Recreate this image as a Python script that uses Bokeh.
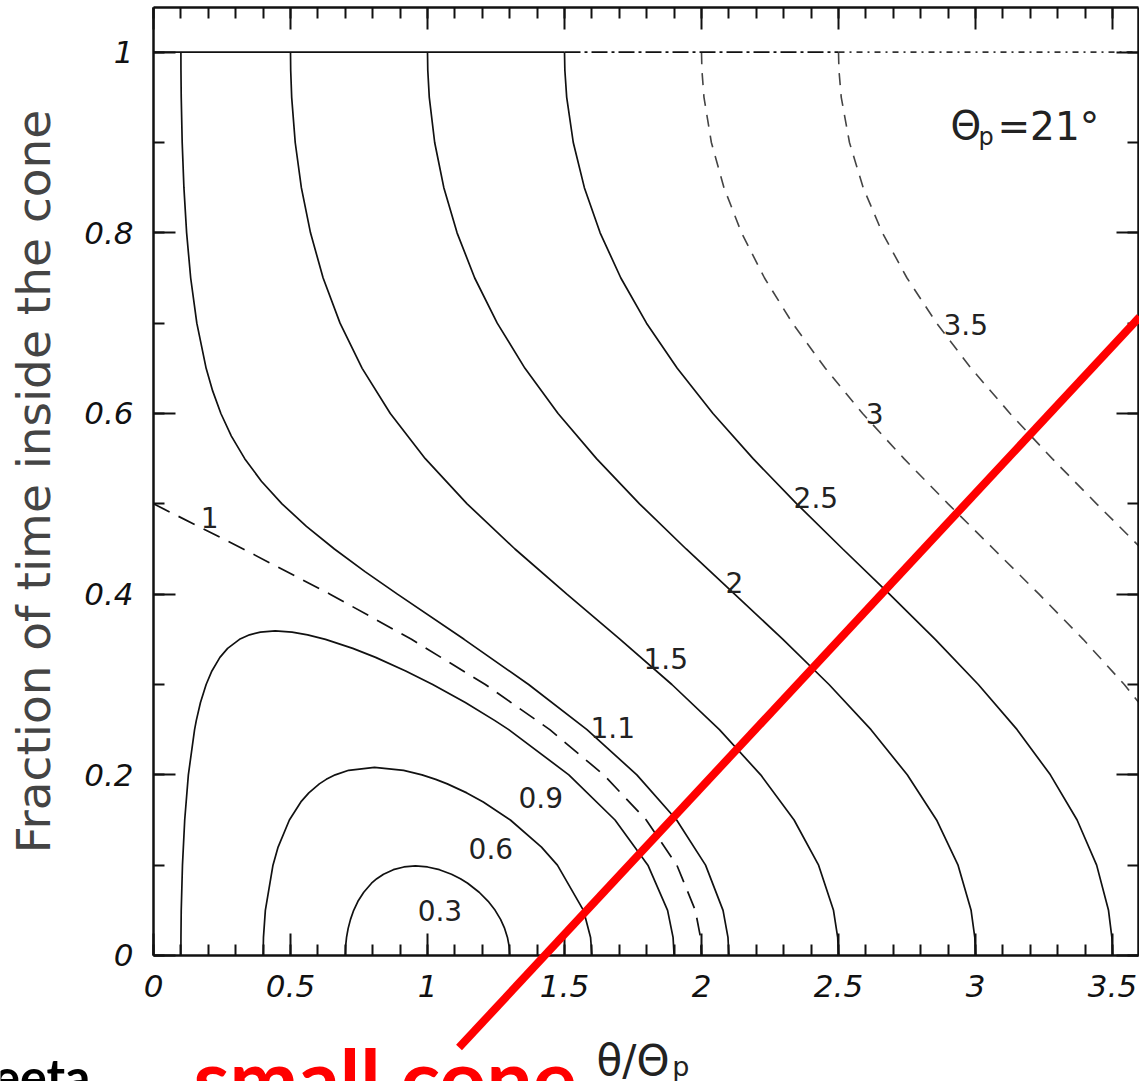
import math
from bokeh.plotting import figure
from bokeh.models import (LinearAxis, SingleIntervalTicker, NumeralTickFormatter,
                          Label, PolyAnnotation, Range1d)
from bokeh.embed import file_html
from bokeh.resources import INLINE

# ---------------- data ----------------
Y_MONO = [1.0, 0.98, 0.95, 0.9, 0.85, 0.8, 0.75, 0.7, 0.65, 0.6, 0.55, 0.5,
          0.45, 0.4, 0.35, 0.3, 0.25, 0.2, 0.15, 0.1, 0.05, 0.02, 0.0]

c03_x = [0.7, 0.7011, 0.7045, 0.7104, 0.7190, 0.7306, 0.7461, 0.7673, 0.7957, 0.8149,
         0.8395, 0.8753, 0.9137, 0.9559, 1.0, 1.0435, 1.0876, 1.1202, 1.1466, 1.1885,
         1.2214, 1.2469, 1.2667, 1.2815, 1.2918, 1.298, 1.3]
c03_y = [0, 0.01, 0.02, 0.03, 0.04, 0.05, 0.06, 0.07, 0.08, 0.085,
         0.09, 0.095, 0.098, 0.0991, 0.098, 0.095, 0.09, 0.085, 0.08, 0.07,
         0.06, 0.05, 0.04, 0.03, 0.02, 0.01, 0]

c06_x = [0.4, 0.4013, 0.4082, 0.436, 0.4547, 0.4959, 0.5378, 0.5669, 0.6052, 0.6305,
         0.6632, 0.7124, 0.8066, 0.9129, 0.9799, 1.030, 1.0722, 1.1434, 1.2035, 1.3024,
         1.416, 1.4741, 1.5692, 1.5951, 1.6]
c06_y = [0, 0.02, 0.05, 0.1, 0.12, 0.15, 0.17, 0.18, 0.19, 0.195,
         0.2, 0.205, 0.2083, 0.205, 0.2, 0.195, 0.19, 0.18, 0.17, 0.15,
         0.12, 0.1, 0.05, 0.02, 0]

c09_x = [0.1, 0.1002, 0.1012, 0.1057, 0.1139, 0.1272, 0.1499, 0.1561, 0.1714, 0.1921,
         0.2131, 0.2424, 0.2705, 0.3139, 0.3505, 0.3899, 0.4441, 0.5057, 0.5625, 0.6277,
         0.7273, 0.8106, 0.9203, 1.0189, 1.138, 1.246, 1.2964, 1.5158, 1.6844, 1.8044,
         1.8762, 1.8962, 1.9]
c09_y = [0, 0.02, 0.05, 0.1, 0.15, 0.2, 0.25, 0.26, 0.28, 0.3,
         0.315, 0.33, 0.34, 0.35, 0.355, 0.358, 0.3593, 0.358, 0.355, 0.35,
         0.34, 0.33, 0.315, 0.3, 0.28, 0.26, 0.25, 0.2, 0.15, 0.1,
         0.05, 0.02, 0]

c10_x = [0.0, 0.1643, 0.3273, 0.6443, 0.9415, 1.2110, 1.4463, 1.6430, 1.7983,
         1.9101, 1.9774, 1.9964, 2.0]
c10_y = [0.5, 0.475, 0.45, 0.4, 0.35, 0.3, 0.25, 0.2, 0.15, 0.1, 0.05, 0.02, 0.0]

c11_x = [0.100, 0.1002, 0.1012, 0.1047, 0.1110, 0.1209, 0.1357, 0.1581, 0.1921,
         0.2159, 0.2459, 0.2842, 0.3329, 0.3938, 0.4690, 0.5581, 0.6602, 0.7719,
         0.8902, 1.1336, 1.3690, 1.5820, 1.7640, 1.9093, 2.0148, 2.0786, 2.0966, 2.100]
c11_y = [1.0, 0.98, 0.95, 0.9, 0.85, 0.8, 0.75, 0.7, 0.65,
         0.625, 0.6, 0.575, 0.55, 0.525, 0.5, 0.475, 0.45, 0.425,
         0.4, 0.35, 0.3, 0.25, 0.2, 0.15, 0.1, 0.05, 0.02, 0.0]

c15_x = [0.5, 0.5007, 0.5043, 0.5172, 0.5396, 0.5730, 0.6191, 0.6808, 0.7615,
         0.8643, 0.9919, 1.1445, 1.3192, 1.5086, 1.7030, 1.8918, 2.0654, 2.2160,
         2.3379, 2.4273, 2.4817, 2.4970, 2.5]
c20_x = [1.0, 1.0010, 1.0065, 1.0262, 1.0596, 1.1079, 1.1723, 1.2545, 1.3557,
         1.4765, 1.6168, 1.7738, 1.9440, 2.1208, 2.2972, 2.4654, 2.6186, 2.7509,
         2.8579, 2.9363, 2.9839, 2.9974, 3.0]
c25_x = [1.5, 1.5013, 1.508, 1.532, 1.5725, 1.630, 1.7056, 1.7993, 1.9115,
         2.0419, 2.1883, 2.3477, 2.5156, 2.6861, 2.8531, 3.0102, 3.1519, 3.2732,
         3.3708, 3.4421, 3.4854, 3.4977, 3.5]
c30_x = [2.0, 2.0015, 2.009, 2.036, 2.082, 2.146, 2.230, 2.332, 2.452, 2.588,
         2.739, 2.900, 3.066, 3.232, 3.393, 3.543, 3.676]
c35_x = [2.5, 2.5016, 2.510, 2.540, 2.590, 2.660, 2.750, 2.858, 2.984, 3.126,
         3.280, 3.442, 3.607]

TOP_X = [0.0, 1.5, 2.5, 3.6]   # breakpoints of the y = 1 line

LABEL_TEXT = ["0.3", "0.6", "0.9", "1", "1.1", "1.5", "2", "2.5", "3", "3.5"]
LABEL_X = [0.964, 1.150, 1.332, 0.172, 1.595, 1.788, 2.088, 2.336, 2.599, 2.883]
LABEL_Y = [0.050, 0.118, 0.175, 0.485, 0.252, 0.329, 0.413, 0.507, 0.600, 0.698]

RED_X = [1.115, 3.599]
RED_Y = [-0.1019, 0.7069]

# plot box (data units) and visible window (the canvas is the whole page)
X_EDGE, Y_TOP = 3.5949, 1.0495
X0, X1 = -0.5584, 3.5985
Y0, Y1 = -0.1395, 1.0572

# ---------------- figure ----------------
p = figure(width=1139, height=1081, x_range=Range1d(X0, X1), y_range=Range1d(Y0, Y1),
           output_backend="svg", toolbar_location=None,
           min_border_left=0, min_border_right=0, min_border_top=0, min_border_bottom=0)
p.xgrid.visible = False
p.ygrid.visible = False
p.background_fill_color = "white"
p.border_fill_color = "white"
p.outline_line_color = None

p.add_layout(LinearAxis(), "above")
p.add_layout(LinearAxis(), "right")

INK = "#111111"
for ax in p.axis:
    ax.axis_line_width = 2.5
    ax.axis_line_color = INK
    ax.major_tick_in = 22
    ax.major_tick_out = 0
    ax.minor_tick_in = 11
    ax.minor_tick_out = 0
    ax.major_tick_line_width = 2
    ax.minor_tick_line_width = 2
    ax.major_tick_line_color = INK
    ax.minor_tick_line_color = INK
    ax.formatter = NumeralTickFormatter(format="0.[0]")
    ax.major_label_text_font = "DejaVu Sans"
    ax.major_label_text_font_style = "italic"
    ax.major_label_text_font_size = "31px"
    ax.major_label_text_color = INK

for ax in p.xaxis:
    ax.ticker = SingleIntervalTicker(interval=0.5, num_minor_ticks=5)
    ax.bounds = (0, X_EDGE)
for ax in p.yaxis:
    ax.ticker = SingleIntervalTicker(interval=0.2, num_minor_ticks=2)
    ax.bounds = (0, Y_TOP)

p.below[0].fixed_location = 0
p.left[0].fixed_location = 0
p.above[0].fixed_location = Y_TOP
p.right[0].fixed_location = X_EDGE

for ax in (p.above[0], p.right[0]):
    ax.major_label_text_color = None
    ax.major_label_standoff = 0
    ax.axis_label_standoff = 0

p.below[0].major_label_standoff = 20
left = p.left[0]
left.major_label_standoff = 20
left.axis_label = "Fraction of time inside the cone"
left.axis_label_text_font = "DejaVu Sans"
left.axis_label_text_font_style = "normal"
left.axis_label_text_font_size = "47px"
left.axis_label_text_color = "#444444"
left.axis_label_standoff = 20

# ---------------- contours ----------------
solid = dict(line_color=INK, line_width=1.7)
p.line(c03_x, c03_y, **solid)
p.line(c06_x, c06_y, **solid)
p.line(c09_x, c09_y, **solid)
p.line(c10_x, c10_y, line_color=INK, line_width=1.7, line_dash="18 10")
p.line(c11_x, c11_y, **solid)
p.line(c15_x, Y_MONO, **solid)
p.line(c20_x, Y_MONO, **solid)
p.line(c25_x, Y_MONO, **solid)
p.line(c30_x, Y_MONO[:len(c30_x)], line_color="#444444", line_width=1.6, line_dash="12 9")
p.line(c35_x, Y_MONO[:len(c35_x)], line_color="#444444", line_width=1.6, line_dash="12 9")

# line along fraction = 1
p.line(TOP_X[0:2], [1, 1], line_color=INK, line_width=1.8)
p.line(TOP_X[1:3], [1, 1], line_color=INK, line_width=1.8, line_dash="16 4 3 4")
p.line(TOP_X[2:4], [1, 1], line_color="#333333", line_width=1.8, line_dash="6 5 2 5")

for t, x, y in zip(LABEL_TEXT, LABEL_X, LABEL_Y):
    p.add_layout(Label(x=x, y=y, text=t, text_font="DejaVu Sans", text_font_size="28px",
                       text_color="#222222", text_baseline="alphabetic"))

# Theta_p = 21 deg annotation
p.add_layout(Label(x=2.909, y=0.919, text="Θ", text_font="DejaVu Sans", text_font_size="39px",
                   text_color="#222222", text_baseline="alphabetic"))
p.add_layout(Label(x=3.011, y=0.906, text="p", text_font="DejaVu Sans", text_font_size="24px",
                   text_color="#222222", text_baseline="alphabetic"))
p.add_layout(Label(x=3.080, y=0.918, text="=21°", text_font="DejaVu Sans", text_font_size="39px",
                   text_color="#222222", text_baseline="alphabetic"))

# x axis label  theta / Theta_p
p.add_layout(Label(x=1.617, y=-0.1163, text="θ/Θ", text_font="DejaVu Sans", text_font_size="42px",
                   text_color="#222222", text_baseline="alphabetic"))
p.add_layout(Label(x=1.893, y=-0.1229, text="p", text_font="DejaVu Sans", text_font_size="27px",
                   text_color="#222222", text_baseline="alphabetic"))

# slide overlay: red line and texts
ppx = 1139 / (X1 - X0)
ppy = 1081 / (Y1 - Y0)
dxp = (RED_X[1] - RED_X[0]) * ppx
dyp = (RED_Y[1] - RED_Y[0]) * ppy
L = math.hypot(dxp, dyp)
half = 4.0
ox = (-dyp / L) * half / ppx
oy = (dxp / L) * half / ppy
p.add_layout(PolyAnnotation(
    xs=[RED_X[0] + ox, RED_X[1] + ox, RED_X[1] - ox, RED_X[0] - ox],
    ys=[RED_Y[0] + oy, RED_Y[1] + oy, RED_Y[1] - oy, RED_Y[0] - oy],
    fill_color="#ff0000", fill_alpha=1.0, line_color=None))

p.add_layout(Label(x=0.146, y=-0.0803, text="small cone", text_font="Lato", text_font_style="bold",
                   text_font_size="82px", text_color="#ff0000", text_baseline="top"))
p.add_layout(Label(x=-0.230, y=-0.100, text="eeta", text_font="Lato", text_font_style="bold",
                   text_font_size="50px", text_color="#000000", text_baseline="top",
                   text_align="right"))

open("out.html", "w").write(file_html(p, INLINE))
